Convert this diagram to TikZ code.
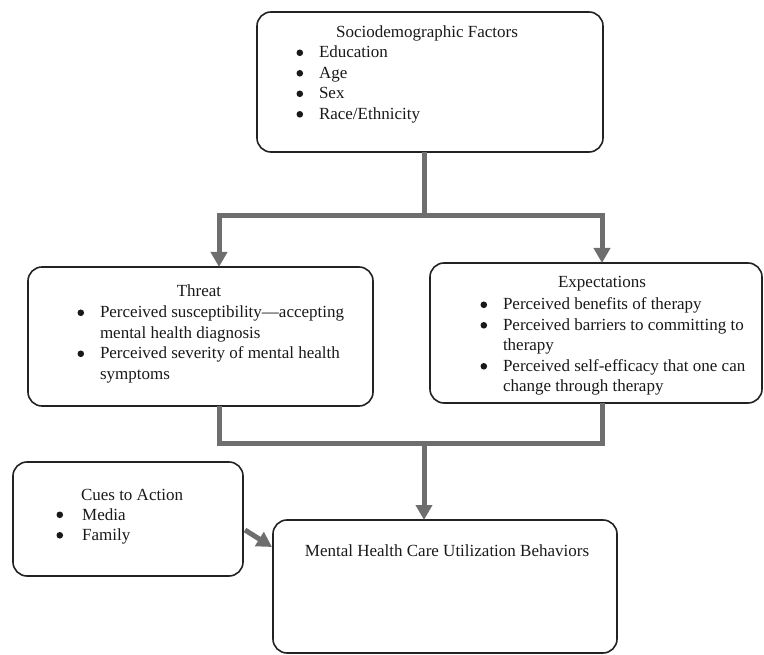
\documentclass[tikz,border=0pt]{standalone}
\usepackage{fontspec}
\setmainfont{Liberation Serif}
\usetikzlibrary{arrows.meta}
\definecolor{arrowgray}{HTML}{6E6E6E}
\definecolor{boxline}{HTML}{222222}
\newcommand{\mybul}[1][24pt]{\makebox[#1][l]{\hspace{1.5pt}\tikz[baseline=0pt]\fill[black!90] (0pt,5.2pt) circle (3.3pt);}}
\newcommand{\mycont}[1][24pt]{\makebox[#1][l]{}}
\begin{document}
\begin{tikzpicture}[x=1pt,y=-1pt,
  box/.style={draw=boxline,line width=1.6pt,rounded corners=14pt,inner sep=0pt,outer sep=0pt},
  txt/.style={inner sep=0pt,outer sep=0pt,font=\fontsize{17}{20.5}\selectfont,text=black!90},
  conn/.style={draw=arrowgray,line width=5pt},
  arr/.style={conn,-{Triangle[width=16pt,length=15pt]}}]
\useasboundingbox (0,0) rectangle (764,655);

% boxes
\node[box,minimum width=346pt,minimum height=140pt] (socio)  at (430,82) {};
\node[box,minimum width=345pt,minimum height=139pt] (threat) at (200.5,336.5) {};
\node[box,minimum width=332pt,minimum height=140pt] (expect) at (596,333) {};
\node[box,minimum width=230pt,minimum height=114pt] (cues)   at (128,519) {};
\node[box,minimum width=344pt,minimum height=133pt] (mhcub)  at (445,586.5) {};

% texts
\node[txt,anchor=base] (sociT) at (427,38) {Sociodemographic Factors};
\node[txt,anchor=base west] (sociL) at (295,58) {\begin{tabular}[t]{@{}l@{}}
\mybul Education\\ \mybul Age\\ \mybul Sex\\ \mybul Race/Ethnicity\end{tabular}};

\node[txt,anchor=base] (threatT) at (199,297) {Threat};
\node[txt,anchor=base west] (threatL) at (76,318) {\begin{tabular}[t]{@{}l@{}}
\mybul Perceived susceptibility—accepting\\ \mycont mental health diagnosis\\
\mybul Perceived severity of mental health\\ \mycont symptoms\end{tabular}};

\node[txt,anchor=base] (expectT) at (602,288) {Expectations};
\node[txt,anchor=base west] (expectL) at (479,310) {\begin{tabular}[t]{@{}l@{}}
\mybul Perceived benefits of therapy\\
\mybul Perceived barriers to committing to\\ \mycont therapy\\
\mybul Perceived self-efficacy that one can\\ \mycont change through therapy\end{tabular}};

\node[txt,anchor=base] (cuesT) at (132,500) {Cues to Action};
\node[txt,anchor=base west] (cuesL) at (55,520) {\begin{tabular}[t]{@{}l@{}}
\mybul[23pt] Media\\ \mybul[23pt] Family\end{tabular}};

\node[txt,anchor=base] (mhcubT) at (447,556) {Mental Health Care Utilization Behaviors};

% connectors
\coordinate (split) at (424,216);
\coordinate (tl) at (219,216);
\coordinate (tr) at (602,216);
\draw[conn] (split |- socio.south) -- (split);
\draw[arr] (split) -- (tl) -- (tl |- threat.north);
\draw[arr] (split) -- (tr) -- (tr |- expect.north);

\coordinate (jl) at (219,443);
\coordinate (jr) at (602,443);
\coordinate (jm) at (424,443);
\draw[conn] (jl |- threat.south) -- (jl) -- (jr) -- (jr |- expect.south);
\draw[arr] (jm) -- (jm |- mhcub.north);

\draw[arr] ([shift={(2,11)}]cues.east) -- ([shift={(-1,27)}]mhcub.north west);
\end{tikzpicture}
\end{document}
